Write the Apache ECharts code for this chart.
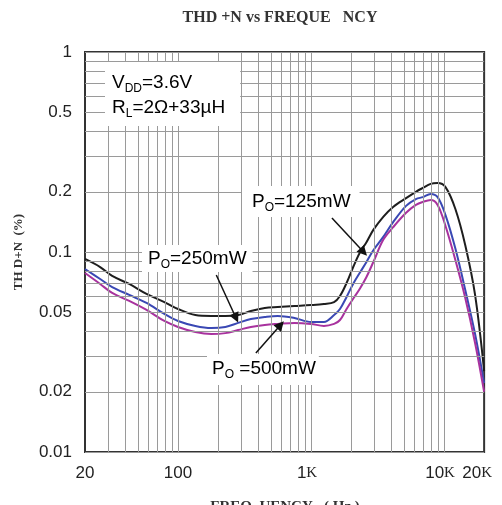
<!DOCTYPE html>
<html><head><meta charset="utf-8">
<script src="https://cdn.jsdelivr.net/npm/echarts@6/dist/echarts.min.js"></script>
<style>html,body{margin:0;padding:0;background:#fff}#c{width:502px;height:505px}</style>
</head><body><div id="c"></div>
<script>
// Frequency (Hz)
const freq = [20,26,32,43,58,79,100,135,178,227,283,353,449,561,750,1000,1250,1490,1650,1850,2090,2320,2610,2940,3490,4140,5180,6140,6920,7930,8940,10250,12160,14430,17100,20000];
// THD+N (%) for each output power
const thd125 = [0.0923,0.0841,0.0759,0.0692,0.0617,0.0562,0.0519,0.0484,0.0479,0.0479,0.0484,0.0507,0.0525,0.0531,0.0537,0.0543,0.0550,0.0562,0.0603,0.0700,0.0851,0.0989,0.112,0.129,0.150,0.168,0.186,0.200,0.209,0.219,0.221,0.211,0.164,0.108,0.061,0.0254];
const thd250 = [0.0822,0.0733,0.0668,0.0610,0.0556,0.0490,0.0452,0.0427,0.0417,0.0422,0.0442,0.0462,0.0473,0.0479,0.0468,0.0447,0.0447,0.0484,0.0519,0.0596,0.0700,0.0785,0.0891,0.102,0.119,0.141,0.170,0.184,0.188,0.195,0.188,0.153,0.104,0.0646,0.0389,0.0221];
const thd500 = [0.0785,0.0692,0.0624,0.0569,0.0513,0.0452,0.0422,0.0398,0.0389,0.0393,0.0407,0.0422,0.0432,0.0437,0.0442,0.0437,0.0427,0.0437,0.0457,0.0519,0.0589,0.0653,0.0750,0.0891,0.115,0.133,0.157,0.172,0.178,0.182,0.172,0.135,0.0912,0.0589,0.0351,0.020];
// Tick labels
const yTicks = [1,0.5,0.2,0.1,0.05,0.02,0.01];
const xGrid = [30,40,50,60,70,80,90,100,200,300,400,500,600,700,800,900,1000,2000,3000,4000,5000,6000,7000,8000,9000,10000];
const yGrid = [0.01,0.02,0.03,0.04,0.05,0.06,0.07,0.08,0.09,0.1,0.2,0.3,0.4,0.5,0.6,0.7,0.8,0.9,1];
// Annotation arrows [from, to] in data coordinates
const arrows = [
  [[1436,0.148],[2483,0.100]],
  [[194,0.0767],[273,0.0468]],
  [[385,0.0313],[590,0.0432]]
];

const pair = arr => freq.map((f,i)=>[f, arr[i]]);
const chart = echarts.init(document.getElementById('c'), null, {renderer:'canvas'});
const sans = 'Liberation Sans, Arial, sans-serif';
const serif = 'Liberation Serif, Times New Roman, serif';
const richLbl = {
  m:{fontFamily:sans,fontSize:19,color:'#222',lineHeight:25},
  s:{fontFamily:sans,fontSize:12,color:'#222',lineHeight:25,verticalAlign:'bottom'}
};
function label(text,x,y,pad){
  return {type:'text',x:x,y:y,z:100,silent:true,
    style:{text:text,rich:richLbl,backgroundColor:'#fff',padding:pad,
      align:'left',verticalAlign:'top',textAlign:'left',textVerticalAlign:'top'}};
}
const yTickLabel = {show:true,position:'start',distance:13,fontFamily:sans,fontSize:17,color:'#222'};
const gridData = xGrid.map(v=>({xAxis:v})).concat(yGrid.map(v=>{
  const item = {yAxis:v};
  if (yTicks.indexOf(v) >= 0) item.label = Object.assign({formatter:String(v)}, yTickLabel);
  return item;
}));
chart.setOption({
  animation:false,
  backgroundColor:'#fff',
  grid:{left:85,top:52,width:404,height:400,show:true,borderColor:'#333',borderWidth:2,backgroundColor:'transparent'},
  xAxis:{type:'log',logBase:10,min:20,max:20000,
    axisLine:{show:false},axisTick:{show:false},splitLine:{show:false},
    axisLabel:{show:true,showMinLabel:true,showMaxLabel:true,margin:13,fontFamily:sans,fontSize:17,color:'#222',
      formatter:function(v){
        if(v>=20000) return '{e|'+(v/1000)+'}{k|K}{p|}';
        if(v>=1000) return '{e|'+(v/1000)+'}{k|K}{q|}';
        return String(v);
      },
      rich:{e:{fontFamily:sans,fontSize:17,color:'#222'},k:{fontFamily:serif,fontSize:15,color:'#222'},
        p:{width:14},q:{width:8}}
    }
  },
  yAxis:{type:'log',logBase:10,min:0.01,max:1,
    axisLine:{show:false},axisTick:{show:false},splitLine:{show:false},axisLabel:{show:false}
  },
  graphic:[
    {type:'text',x:280,y:18,silent:true,style:{text:'THD +N vs FREQUE   NCY',font:'bold 16px '+serif,fill:'#333',
      align:'center',verticalAlign:'middle',textAlign:'center',textVerticalAlign:'middle'}},
    {type:'text',x:19,y:252,rotation:Math.PI/2,silent:true,style:{text:'TH D+N  (%)',font:'bold 13px '+serif,fill:'#333',
      align:'center',verticalAlign:'middle',textAlign:'center',textVerticalAlign:'middle'}},
    {type:'text',x:285,y:507,silent:true,style:{text:'FREQ  UENCY   ( Hz )',font:'bold 15px '+serif,fill:'#333',
      align:'center',verticalAlign:'middle',textAlign:'center',textVerticalAlign:'middle'}},
    label('{m|V}{s|DD}{m|=3.6V}\n{m|R}{s|L}{m|=2Ω+33µH}',105,62,[8,15,6,7]),
    label('{m|P}{s|O}{m|=125mW}',242,186,[3,9,3,10]),
    label('{m|P}{s|O}{m|=250mW}',142,245,[1,6,1,6]),
    label('{m|P}{s|O}{m| =500mW}',207,354,[2,3,4,5])
  ],
  series:[
    {type:'line',data:[],z:1,silent:true,
      markLine:{silent:true,symbol:'none',animation:false,label:{show:false},emphasis:{disabled:true},
        lineStyle:{color:'#9a9a9a',width:1,type:'solid'},
        data:gridData}},
    {name:'125mW',type:'line',data:pair(thd125),z:3,showSymbol:false,smooth:0.35,silent:true,
      lineStyle:{color:'#1e1e1e',width:2}},
    {name:'250mW',type:'line',data:pair(thd250),z:3,showSymbol:false,smooth:0.35,silent:true,
      lineStyle:{color:'#3a48b4',width:2}},
    {name:'500mW',type:'line',data:pair(thd500),z:3,showSymbol:false,smooth:0.35,silent:true,
      lineStyle:{color:'#a8329e',width:2}},
    {type:'line',data:[],z:4,silent:true,
      markLine:{silent:true,animation:false,symbol:['none','triangle'],symbolSize:10,label:{show:false},emphasis:{disabled:true},
        lineStyle:{color:'#111',width:1.5,type:'solid'},
        data:arrows.map(a=>[{coord:a[0]},{coord:a[1]}])}}
  ]
});
</script>
</body></html>
